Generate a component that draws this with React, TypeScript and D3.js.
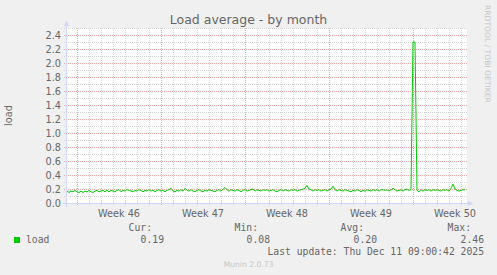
import React from "react";
import * as d3 from "d3";

const W = 497;
const H = 275;
const HOUR = 3600e3;
const startTime = Date.UTC(2025, 10, 9, 4);
const stepHours = 4;

const loadValues = [
  0.17, 0.15, 0.17, 0.16, 0.18, 0.16, 0.15, 0.17, 0.15, 0.17, 0.16, 0.18, 0.16, 0.15, 0.17, 0.18, 0.16, 0.17, 0.18, 0.16,
  0.18, 0.16, 0.18, 0.17, 0.16, 0.18, 0.19, 0.16, 0.18, 0.17, 0.19, 0.18, 0.17, 0.16, 0.18, 0.17, 0.19, 0.18, 0.16, 0.18,
  0.17, 0.19, 0.17, 0.18, 0.16, 0.18, 0.19, 0.17, 0.18, 0.16, 0.18, 0.19, 0.21, 0.17, 0.16, 0.18, 0.17, 0.19, 0.17, 0.21,
  0.18, 0.17, 0.19, 0.17, 0.16, 0.18, 0.19, 0.17, 0.16, 0.18, 0.17, 0.19, 0.18, 0.17, 0.16, 0.18, 0.19, 0.17, 0.2, 0.22,
  0.19, 0.17, 0.19, 0.18, 0.17, 0.19, 0.18, 0.16, 0.18, 0.19, 0.17, 0.18, 0.19, 0.2, 0.17, 0.19, 0.18, 0.17, 0.19, 0.18,
  0.19, 0.17, 0.18, 0.19, 0.17, 0.16, 0.18, 0.19, 0.17, 0.19, 0.18, 0.17, 0.19, 0.18, 0.19, 0.17, 0.18, 0.19, 0.2, 0.21,
  0.25, 0.2, 0.19, 0.17, 0.19, 0.18, 0.19, 0.17, 0.18, 0.19, 0.17, 0.19, 0.2, 0.24, 0.19, 0.17, 0.19, 0.18, 0.17, 0.19,
  0.18, 0.17, 0.16, 0.18, 0.17, 0.19, 0.18, 0.16, 0.18, 0.17, 0.19, 0.18, 0.17, 0.19, 0.18, 0.19, 0.17, 0.19, 0.19, 0.18,
  0.19, 0.17, 0.19, 0.21, 0.19, 0.17, 0.18, 0.19, 0.17, 0.19, 0.2, 0.18, 0.19, 2.3, 2.3, 0.18, 0.16, 0.19, 0.17, 0.19,
  0.18, 0.19, 0.17, 0.19, 0.18, 0.19, 0.18, 0.17, 0.19, 0.18, 0.19, 0.17, 0.21, 0.27, 0.2, 0.18, 0.17, 0.18, 0.19, 0.19,
];

const yTicks = [0, 0.2, 0.4, 0.6, 0.8, 1.0, 1.2, 1.4, 1.6, 1.8, 2.0, 2.2, 2.4];
const weekStarts = ["2025-11-10", "2025-11-17", "2025-11-24", "2025-12-01", "2025-12-08"];
const weekLabels = ["Week 46", "Week 47", "Week 48", "Week 49", "Week 50"];
const legendHeaders = ["Cur:", "Min:", "Avg:", "Max:"];
const legendValues = ["0.19", "0.08", "0.20", "2.46"];
const seriesName = "load";
const lastUpdate = "Last update: Thu Dec 11 09:00:42 2025";

const SANS = "'DejaVu Sans', sans-serif";
const MONO = "'DejaVu Sans Mono', monospace";
const FONT = "#666666";
const AXIS = "#CFD6F8";
const GRID = "#d4d4d4";
const MGRID = "#efa9a9";
const LINE = "#00cc00";

export default function App() {
  const L = 67, R = 467, T = 28, B = 203;
  const endTime = startTime + loadValues.length * stepHours * HOUR;
  const x = d3.scaleUtc().domain([new Date(startTime), new Date(endTime)]).range([L, R]);
  const y = d3.scaleLinear().domain([0, 2.5]).range([B, T]);

  const days = d3.utcDay.range(new Date(startTime), new Date(endTime));
  const hMinor = d3.range(1, 26);

  const line = d3
    .line<number>()
    .x((_, i) => x(new Date(startTime + i * stepHours * HOUR)))
    .y((d) => y(d));

  const headerX = [152, 258, 364, 471];
  const valueX = [164, 270, 377, 484];

  return (
    <svg width={W} height={H} style={{ position: "absolute", left: 0, top: 0 }}>
      <rect x={0} y={0} width={W} height={H} fill="#F0F0F0" />
      <rect x={L} y={T} width={R - L} height={B - T} fill="#FFFFFF" />
      {hMinor.map((i) => {
        const yy = Math.round(y(i / 10)) + 0.5;
        const major = i % 2 === 0;
        return (
          <line key={"h" + i} x1={64} x2={R + 1} y1={yy} y2={yy}
            stroke={major ? MGRID : GRID} strokeWidth={1} strokeDasharray="1,1" />
        );
      })}
      {days.map((d, i) => {
        const xx = Math.round(x(d)) + 0.5;
        const major = d.getUTCDay() === 1;
        return (
          <line key={"v" + i} x1={xx} x2={xx} y1={T} y2={B + 3}
            stroke={major ? MGRID : GRID} strokeWidth={1} strokeDasharray="1,1" />
        );
      })}
      <line x1={63} x2={469} y1={B + 0.5} y2={B + 0.5} stroke={AXIS} strokeWidth={1} />
      <path d={`M468,${B - 2} L473.5,${B + 0.5} L468,${B + 3} Z`} fill={AXIS} />
      <line x1={66.5} x2={66.5} y1={B + 4} y2={24} stroke={AXIS} strokeWidth={1} />
      <path d={`M64,26 L66.5,20.5 L69,26 Z`} fill={AXIS} />
      <path d={line(loadValues) ?? ""} fill="none" stroke={LINE} strokeWidth={1} />
      {yTicks.map((v) => (
        <text key={"yt" + v} x={61} y={y(v) + 3.5} textAnchor="end" fontFamily={SANS}
          fontSize={9.72} fill={FONT}>
          {v.toFixed(1)}
        </text>
      ))}
      {weekStarts.map((s, i) => {
        const t = new Date(s + "T00:00:00Z").getTime() + 3.5 * 24 * HOUR;
        return (
          <text key={"xl" + i} x={x(new Date(t))} y={216.5} textAnchor="middle"
            fontFamily={SANS} fontSize={9.72} fill={FONT}>
            {weekLabels[i]}
          </text>
        );
      })}
      <text x={248.5} y={24} textAnchor="middle" fontFamily={SANS} fontSize={12.5} fill={FONT}>
        Load average - by month
      </text>
      <text transform={`translate(11.5,${(T + B) / 2}) rotate(-90)`} textAnchor="middle"
        fontFamily={SANS} fontSize={9.72} fill={FONT}>
        load
      </text>
      <text transform={`translate(485,5) rotate(90)`} textAnchor="start" fontFamily={SANS}
        fontSize={7.6} fill="#c6c6c6">
        RRDTOOL / TOBI OETIKER
      </text>
      {legendHeaders.map((h, i) => (
        <text key={"lh" + i} x={headerX[i]} y={231} textAnchor="end" fontFamily={MONO}
          fontSize={9.72} fill={FONT} style={{ whiteSpace: "pre" }}>
          {h}
        </text>
      ))}
      <rect x={14} y={237} width={6} height={6} fill={LINE} />
      <text x={26} y={243.3} fontFamily={MONO} fontSize={9.72} fill={FONT}>
        {seriesName}
      </text>
      {legendValues.map((v, i) => (
        <text key={"lv" + i} x={valueX[i]} y={243.3} textAnchor="end" fontFamily={MONO}
          fontSize={9.72} fill={FONT}>
          {v}
        </text>
      ))}
      <text x={484} y={255} textAnchor="end" fontFamily={MONO} fontSize={9.72} fill={FONT}
        style={{ whiteSpace: "pre" }}>
        {lastUpdate}
      </text>
      <text x={248.5} y={266.5} textAnchor="middle" fontFamily={SANS} fontSize={7.6} fill="#c6c6c6">
        Munin 2.0.73
      </text>
    </svg>
  );
}
